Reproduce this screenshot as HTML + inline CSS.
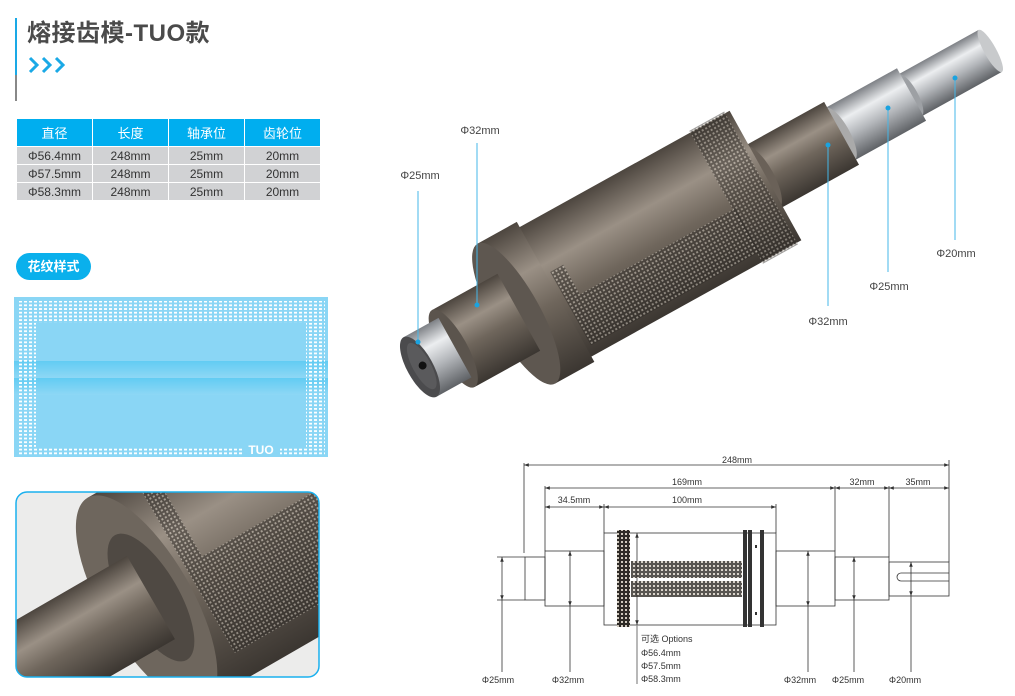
<!DOCTYPE html>
<html><head><meta charset="utf-8"><style>
html,body{margin:0;width:1015px;height:696px;overflow:hidden}
body{background:#fff;font-family:"Liberation Sans","Noto Sans CJK SC",sans-serif;position:relative}
.a{position:absolute}
table{border-collapse:collapse;position:absolute;left:16px;top:118px}
td{width:75px;text-align:center;font-size:12px;color:#333;background:#d1d2d4;border:1.5px solid #fff;height:17px;padding:0}
th{width:75px;text-align:center;font-size:13px;color:#fff;background:#00aeef;border:1.5px solid #fff;height:27px;font-weight:normal;padding:0}
</style></head><body>
<div class="a" style="left:15px;top:18px;width:2px;height:62px;background:#1aa9e6"></div>
<div class="a" style="left:15px;top:75px;width:2px;height:26px;background:#888"></div>
<div class="a" style="left:27px;top:13px;font-size:24px;font-weight:bold;color:#4a4a4a;letter-spacing:0.5px">熔接齿模-TUO款</div>
<svg class="a" style="left:28px;top:55px" width="44" height="20"><g fill="none" stroke="#1aa9e6" stroke-width="3"><path d="M2 3l7 7-7 7M15 3l7 7-7 7M28 3l7 7-7 7"/></g></svg>
<table><tr><th>直径</th><th>长度</th><th>轴承位</th><th>齿轮位</th></tr>
<tr><td>Φ56.4mm</td><td>248mm</td><td>25mm</td><td>20mm</td></tr>
<tr><td>Φ57.5mm</td><td>248mm</td><td>25mm</td><td>20mm</td></tr>
<tr><td>Φ58.3mm</td><td>248mm</td><td>25mm</td><td>20mm</td></tr></table>
<div class="a" style="left:16px;top:253px;width:75px;height:27px;border-radius:14px;background:#0ab0ec;color:#fff;font-size:13px;font-weight:bold;line-height:27px;text-align:center">花纹样式</div>

<svg class="a" style="left:14px;top:297px" width="314" height="160">
<defs><pattern id="dt" width="5" height="3.7" patternUnits="userSpaceOnUse"><rect width="3" height="1.8" fill="#fff"/></pattern>
<linearGradient id="bd" x1="0" y1="0" x2="0" y2="1"><stop offset="0" stop-color="#62ccf3"/><stop offset="1" stop-color="#8ed7f5"/></linearGradient></defs>
<rect width="314" height="160" fill="#8ad6f5"/>
<rect x="0" y="64" width="314" height="17" fill="url(#bd)"/>
<rect x="0" y="81" width="314" height="17" fill="url(#bd)"/>
<rect x="3" y="4" width="308" height="22" fill="url(#dt)"/>
<rect x="3" y="150" width="308" height="8" fill="url(#dt)"/>
<rect x="3" y="26" width="19" height="124" fill="url(#dt)"/>
<rect x="292" y="26" width="19" height="124" fill="url(#dt)"/>
<rect x="229" y="145" width="37" height="15" fill="#8ad6f5"/>
<text x="247" y="157" font-size="12" font-weight="bold" fill="#fff" text-anchor="middle" font-family="Liberation Sans">TUO</text>
</svg>

<svg class="a" style="left:0;top:0" width="1015" height="696">
<defs>
<linearGradient id="br" x1="0" y1="0" x2="0" y2="1"><stop offset="0" stop-color="#4d463f"/><stop offset=".3" stop-color="#9a9085"/><stop offset=".55" stop-color="#6f665c"/><stop offset="1" stop-color="#3b3631"/></linearGradient>
<linearGradient id="sv" x1="0" y1="0" x2="0" y2="1"><stop offset="0" stop-color="#7e8186"/><stop offset=".3" stop-color="#eceef0"/><stop offset=".6" stop-color="#b3b6ba"/><stop offset="1" stop-color="#5f6266"/></linearGradient>
<pattern id="kn" width="4" height="4" patternUnits="userSpaceOnUse"><rect width="4" height="4" fill="#2e2a26"/><rect x="1" y="1" width="2" height="2" fill="#cfc8bd"/></pattern>
<marker id="ar" markerWidth="6" markerHeight="6" refX="6" refY="3" orient="auto-start-reverse"><path d="M0 0.8L6 3L0 5.2z" fill="#333"/></marker>
<clipPath id="cp"><rect x="16" y="492" width="303" height="185" rx="11"/></clipPath>
</defs>
<!-- main photo -->
<g transform="translate(420,367) rotate(-29)">
<rect x="560" y="-24" width="92" height="48" fill="url(#sv)"/>
<ellipse cx="652" cy="0" rx="6" ry="24" fill="#c8cacc"/>
<ellipse cx="560" cy="0" rx="8" ry="24" fill="#9da0a4"/>
<rect x="480" y="-30" width="82" height="60" fill="url(#sv)"/>
<ellipse cx="480" cy="0" rx="10" ry="30" fill="#aaa"/>
<rect x="390" y="-36" width="92" height="72" fill="url(#br)"/>
<ellipse cx="390" cy="0" rx="13" ry="36" fill="#6a6158"/>
<rect x="150" y="-74" width="245" height="148" fill="url(#br)"/>
<rect x="350" y="-76" width="40" height="152" fill="url(#kn)" opacity=".45"/>
<rect x="175" y="14" width="178" height="50" fill="url(#kn)" opacity=".5"/>
<rect x="160" y="-20" width="15" height="84" fill="url(#kn)" opacity=".5"/>
<rect x="110" y="-80" width="45" height="160" fill="url(#br)"/>
<ellipse cx="110" cy="0" rx="24" ry="80" fill="#5e5750"/>
<rect x="38" y="-44" width="75" height="88" fill="url(#br)"/>
<ellipse cx="38" cy="0" rx="14" ry="44" fill="#5b544d"/>
<rect x="0" y="-34" width="40" height="68" fill="url(#sv)"/>
<ellipse cx="0" cy="0" rx="13" ry="34" fill="#4b4b4d"/>
<ellipse cx="2" cy="0" rx="9" ry="26" fill="#5a5a5c"/>
<circle cx="3" cy="0" r="4" fill="#111"/>
</g>
<g stroke="#45b7e8" stroke-width="1"><line x1="477" y1="143" x2="477" y2="305"/><line x1="418" y1="191" x2="418" y2="342"/><line x1="828" y1="145" x2="828" y2="306"/><line x1="888" y1="108" x2="888" y2="272"/><line x1="955" y1="78" x2="955" y2="240"/></g>
<g fill="#1aa3e0"><circle cx="477" cy="305" r="2.5"/><circle cx="418" cy="342" r="2.5"/><circle cx="828" cy="145" r="2.5"/><circle cx="888" cy="108" r="2.5"/><circle cx="955" cy="78" r="2.5"/></g>
<g font-size="11" fill="#444" text-anchor="middle"><text x="480" y="134">Φ32mm</text><text x="420" y="179">Φ25mm</text><text x="828" y="325">Φ32mm</text><text x="889" y="290">Φ25mm</text><text x="956" y="257">Φ20mm</text></g>

<!-- close-up photo -->
<g clip-path="url(#cp)">
<rect x="16" y="492" width="303" height="185" fill="#ececeb"/>
<g transform="translate(60,650) rotate(-30)">
<rect x="100" y="-118" width="400" height="236" fill="url(#br)"/>
<rect x="150" y="-10" width="300" height="100" fill="url(#kn)" opacity=".5"/>
<rect x="150" y="-118" width="20" height="108" fill="url(#kn)" opacity=".5"/>
<ellipse cx="100" cy="0" rx="45" ry="118" fill="#6e665d"/>
<ellipse cx="105" cy="0" rx="28" ry="72" fill="#4f4943"/>
<rect x="-80" y="-48" width="185" height="96" fill="url(#br)"/>
</g>
</g>
<rect x="16" y="492" width="303" height="185" rx="11" fill="none" stroke="#1ab0ee" stroke-width="1.5"/>

<!-- drawing -->
<g stroke="#333" stroke-width="0.8" fill="none">
<rect x="525" y="557" width="20" height="43"/>
<rect x="545" y="551" width="59" height="55"/>
<rect x="604" y="533" width="172" height="92"/>
<rect x="776" y="551" width="59" height="55"/>
<rect x="835" y="557" width="54" height="43"/>
<rect x="889" y="562" width="60" height="34"/>
<path d="M949 573H901a4 4 0 0 0 0 8H949"/>
<path d="M524 463V553M545 486V551M604 504V533M776 504V533M835 486V551M889 486V557M949 460V562"/>
<path d="M497 557H525M497 600H525"/>
<g marker-start="url(#ar)" marker-end="url(#ar)">
<line x1="524" y1="465" x2="949" y2="465"/><line x1="545" y1="488" x2="835" y2="488"/><line x1="835" y1="488" x2="889" y2="488"/><line x1="889" y1="488" x2="949" y2="488"/>
<line x1="545" y1="507" x2="604" y2="507"/><line x1="604" y1="507" x2="776" y2="507"/>
<line x1="502" y1="557" x2="502" y2="600"/><line x1="570" y1="551" x2="570" y2="606"/><line x1="808" y1="551" x2="808" y2="606"/><line x1="854" y1="557" x2="854" y2="600"/><line x1="911" y1="562" x2="911" y2="596"/>
<line x1="637" y1="533" x2="637" y2="625"/></g>
<path d="M502 600V672M570 606V672M808 606V672M854 600V672M911 596V672"/>
</g>
<line x1="637" y1="625" x2="637" y2="684" stroke="#888" stroke-width="1.2"/>
<rect x="617" y="530" width="13" height="97" fill="url(#kn)"/>
<g fill="#333"><rect x="743" y="530" width="4" height="97"/><rect x="748" y="530" width="4" height="97"/><rect x="760" y="530" width="4" height="97"/><rect x="755" y="545" width="2" height="3"/><rect x="755" y="612" width="2" height="3"/></g>
<rect x="631" y="561" width="111" height="17" fill="url(#kn)" opacity=".8"/>
<rect x="631" y="581" width="111" height="16" fill="url(#kn)" opacity=".8"/>
<g font-size="9" fill="#333" text-anchor="middle"><text x="737" y="463">248mm</text><text x="687" y="485">169mm</text><text x="862" y="485">32mm</text><text x="918" y="485">35mm</text><text x="574" y="503">34.5mm</text><text x="687" y="503">100mm</text>
<text x="498" y="683">Φ25mm</text><text x="568" y="683">Φ32mm</text><text x="800" y="683">Φ32mm</text><text x="848" y="683">Φ25mm</text><text x="905" y="683">Φ20mm</text></g>
<g font-size="9" fill="#333"><text x="641" y="642">可选 Options</text><text x="641" y="656">Φ56.4mm</text><text x="641" y="669">Φ57.5mm</text><text x="641" y="682">Φ58.3mm</text></g>
</svg>
</body></html>
